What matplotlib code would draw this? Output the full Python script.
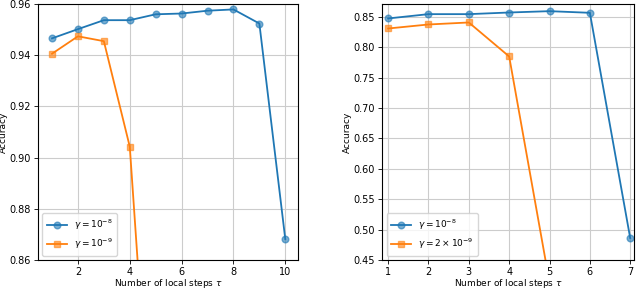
import matplotlib.pyplot as plt

# left panel
steps_a = [1, 2, 3, 4, 5, 6, 7, 8, 9, 10]
acc_a_1e8 = [0.9466, 0.9502, 0.9537, 0.9537, 0.9560, 0.9563, 0.9574, 0.9579, 0.9524, 0.8682]
steps_a_o = [1, 2, 3, 4, 5]
acc_a_1e9 = [0.9406, 0.9474, 0.9455, 0.9043, 0.757]

# right panel
steps_b = [1, 2, 3, 4, 5, 6, 7]
acc_b_1e8 = [0.8473, 0.8544, 0.8544, 0.8571, 0.8593, 0.8566, 0.4862]
steps_b_o = [1, 2, 3, 4, 5]
acc_b_2e9 = [0.8308, 0.8374, 0.8407, 0.7848, 0.413]

blue = '#1f77b4'
orange = '#ff7f0e'

fig = plt.figure(figsize=(6.4, 2.89), dpi=100)
ax1 = fig.add_axes([0.059, 0.100, 0.407, 0.886])
ax2 = fig.add_axes([0.597, 0.100, 0.394, 0.886])


def draw(ax, x1, y1, x2, y2, lab1, lab2):
    ax.plot(x1, y1, color=blue, lw=1.3, marker='o', ms=4.8,
            mfc=(0.12, 0.47, 0.71, 0.6), mec=(0.12, 0.47, 0.71, 0.6), label=lab1)
    ax.plot(x2, y2, color=orange, lw=1.3, marker='s', ms=4.8,
            mfc=(1.0, 0.5, 0.05, 0.6), mec=(1.0, 0.5, 0.05, 0.6), label=lab2)
    ax.grid(True, color='#cccccc', lw=0.8)
    ax.set_axisbelow(True)
    ax.tick_params(labelsize=7, length=3, width=0.6, pad=2)
    ax.set_xlabel(r'Number of local steps $\tau$', fontsize=6.5, labelpad=0)
    ax.set_ylabel('Accuracy', fontsize=6.5, labelpad=1)
    ax.legend(loc='lower left', fontsize=6.5, handlelength=2.2, borderpad=0.5)
    for s in ax.spines.values():
        s.set_linewidth(0.8)


draw(ax1, steps_a, acc_a_1e8, steps_a_o, acc_a_1e9,
     r'$\gamma = 10^{-8}$', r'$\gamma = 10^{-9}$')
ax1.set_ylim(0.86, 0.96)
ax1.set_xlim(0.45, 10.5)
ax1.set_xticks([2, 4, 6, 8, 10])
ax1.set_yticks([0.86, 0.88, 0.90, 0.92, 0.94, 0.96])

draw(ax2, steps_b, acc_b_1e8, steps_b_o, acc_b_2e9,
     r'$\gamma = 10^{-8}$', r'$\gamma = 2 \times 10^{-9}$')
ax2.set_ylim(0.45, 0.871)
ax2.set_xlim(0.85, 7.1)
ax2.set_xticks([1, 2, 3, 4, 5, 6, 7])
ax2.set_yticks([0.45, 0.50, 0.55, 0.60, 0.65, 0.70, 0.75, 0.80, 0.85])

fig.savefig('out.png', dpi=100)
